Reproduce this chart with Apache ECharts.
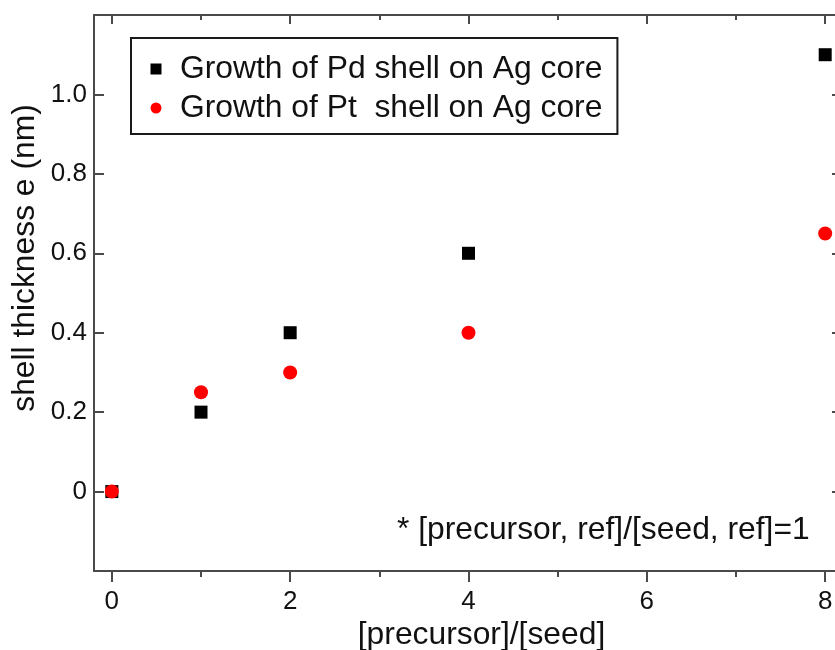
<!DOCTYPE html>
<html>
<head>
<meta charset="utf-8">
<script src="https://cdn.jsdelivr.net/npm/echarts@6/dist/echarts.min.js"></script>
<style>
html,body{margin:0;padding:0;background:#fff;}
#chart{width:835px;height:650px;}
</style>
</head>
<body>
<div id="chart"></div>
<script>
// ---- data ----
const seriesNames = ['Growth of Pd shell on Ag core', 'Growth of Pt  shell on Ag core'];
const xPd = [0, 1, 2, 4, 8];
const yPd = [0, 0.2, 0.4, 0.6, 1.1];
const xPt = [0, 1, 2, 4, 8];
const yPt = [0, 0.25, 0.3, 0.4, 0.65];
const xTicks = [0, 2, 4, 6, 8];
const xMinorTicks = [1, 3, 5, 7];
const yTicks = [0, 0.2, 0.4, 0.6, 0.8, 1.0];
const xName = '[precursor]/[seed]';
const yName = 'shell thickness e (nm)';
const note = '* [precursor, ref]/[seed, ref]=1';

const FONT = '"Liberation Sans", Arial, sans-serif';
const AX = '#4a4a4a';
const TXT = '#111';
const BIG = 31.8;

const chart = echarts.init(document.getElementById('chart'), null, {renderer: 'canvas'});

function xAx(opts) {
  return Object.assign({
    type: 'value', min: -0.2, max: 8.11, splitLine: {show: false},
    axisLine: {show: false, onZero: false}, axisLabel: {show: false}, axisTick: {show: false}
  }, opts);
}
function yAx(opts) {
  return Object.assign({
    type: 'value', min: -0.2, max: 1.2, splitLine: {show: false},
    axisLine: {show: false, onZero: false}, axisLabel: {show: false}, axisTick: {show: false}
  }, opts);
}

const option = {
  backgroundColor: '#fff',
  animation: false,
  textStyle: {fontFamily: FONT},
  grid: {left: 94, top: 15, right: 0, bottom: 79, containLabel: false, outerBoundsMode: 'none'},
  xAxis: [
    xAx({
      position: 'bottom',
      axisLine: {show: true, onZero: false, lineStyle: {color: AX, width: 2}},
      axisTick: {show: true, inside: false, length: 11, customValues: xTicks, lineStyle: {color: AX, width: 2}},
      axisLabel: {show: true, customValues: xTicks, margin: 18, fontSize: 26, color: TXT, fontFamily: FONT},
      name: xName, nameLocation: 'middle', nameGap: 48, nameMoveOverlap: false,
      nameTextStyle: {fontSize: BIG, color: TXT, fontFamily: FONT, padding: [0, 0, 0, 34]}
    }),
    xAx({
      position: 'bottom',
      axisTick: {show: true, inside: false, length: 6, customValues: xMinorTicks, lineStyle: {color: AX, width: 2}}
    }),
    xAx({
      position: 'top',
      axisLine: {show: true, onZero: false, lineStyle: {color: AX, width: 2}},
      axisTick: {show: true, inside: true, length: 9, customValues: xTicks, lineStyle: {color: AX, width: 2}}
    }),
    xAx({
      position: 'top',
      axisTick: {show: true, inside: true, length: 5, customValues: xMinorTicks, lineStyle: {color: AX, width: 2}}
    })
  ],
  yAxis: [
    yAx({
      position: 'left',
      axisLine: {show: true, onZero: false, lineStyle: {color: AX, width: 2}},
      axisTick: {show: true, inside: true, length: 10, customValues: yTicks, lineStyle: {color: AX, width: 2}},
      axisLabel: {show: true, customValues: yTicks, margin: 7, fontSize: 26, color: TXT, fontFamily: FONT,
        formatter: v => (Math.abs(v) < 1e-9 ? '0' : Number(v).toFixed(1))},
      name: yName, nameLocation: 'middle', nameGap: 53, nameMoveOverlap: false,
      nameTextStyle: {fontSize: BIG, color: TXT, fontFamily: FONT, padding: [0, 0, 0, 70]}
    }),
    yAx({
      position: 'right', offset: 7,
      axisLine: {show: true, onZero: false, lineStyle: {color: AX, width: 2}},
      axisTick: {show: true, inside: true, length: 10, customValues: yTicks, lineStyle: {color: AX, width: 2}}
    })
  ],
  legend: {
    orient: 'vertical',
    left: 131, top: 38,
    padding: [14, 15, 9, 19.5],
    itemWidth: 11, itemHeight: 11, itemGap: 5,
    borderColor: '#1a1a1a', borderWidth: 2,
    backgroundColor: '#fff',
    textStyle: {fontSize: BIG, color: TXT, fontFamily: FONT, lineHeight: 34, padding: [0, 0, 0, 13.5]},
    data: seriesNames
  },
  graphic: [{
    type: 'text', x: 397, y: 530, silent: true,
    style: {text: note, fontSize: BIG, fontFamily: FONT, fill: TXT, align: 'left', verticalAlign: 'middle'}
  }],
  series: [
    {
      name: seriesNames[0], type: 'scatter', xAxisIndex: 0, yAxisIndex: 0,
      symbol: 'rect', symbolSize: 13,
      itemStyle: {color: '#000', opacity: 1},
      data: xPd.map((x, i) => [x, yPd[i]]), z: 2
    },
    {
      name: seriesNames[1], type: 'scatter', xAxisIndex: 0, yAxisIndex: 0,
      symbol: 'circle', symbolSize: 14,
      itemStyle: {color: '#ff0000', opacity: 1},
      data: xPt.map((x, i) => [x, yPt[i]]), z: 3
    }
  ]
};
chart.setOption(option);
</script>
</body>
</html>
